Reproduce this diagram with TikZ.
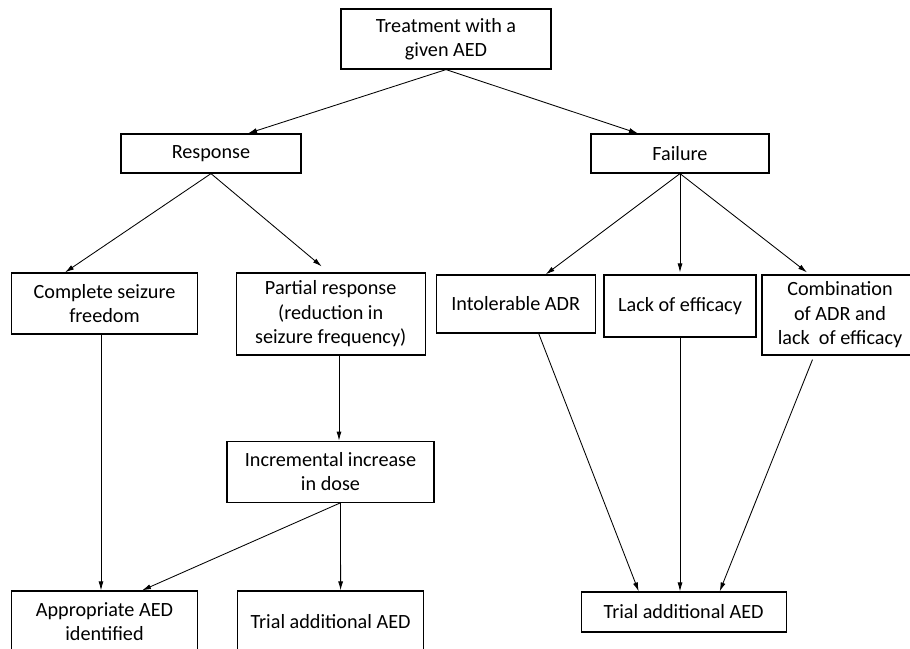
\documentclass[tikz,border=0pt]{standalone}
\usepackage{fontspec}
\setmainfont{Carlito}
\usetikzlibrary{arrows.meta}
\tikzset{
    box/.style={draw, line width=1.2pt, inner sep=0pt, align=center, font=\fontsize{20.2}{24.5}\selectfont},
    flow/.style={line width=.85pt, -{Latex[length=9pt,width=5pt]}}
}
\begin{document}
\begin{tikzpicture}[x=1pt, y=-1pt]
    \useasboundingbox (0,0) rectangle (910,648);
    \node[box, minimum width=210, minimum height=60] (treat) at (446,39) {Treatment with a\\given AED};
    \node[box, minimum width=180, minimum height=39] (resp) at (211,153.5) {Response};
    \node[box, minimum width=178, minimum height=39] (fail) at (680,153.5) {Failure};
    \node[box, minimum width=186, minimum height=61] (compl) at (104.5,303.5) {Complete seizure\\freedom};
    \node[box, minimum width=189, minimum height=82] (part) at (330.7,314) {Partial response\\(reduction in\\seizure frequency)};
    \node[box, minimum width=159, minimum height=58] (intol) at (515.7,304) {Intolerable ADR};
    \node[box, minimum width=152, minimum height=62] (lack) at (680,306) {Lack of efficacy};
    \node[box, minimum width=156, minimum height=80] (comb) at (840,315) {Combination\\of ADR and\\lack\ \ of efficacy};
    \node[box, minimum width=207, minimum height=61] (incr) at (330.5,471.7) {Incremental increase\\in dose};
    \node[box, minimum width=186, minimum height=61] (appr) at (104.5,621.5) {Appropriate AED\\identified};
    \node[box, minimum width=186, minimum height=61] (trialA) at (330.6,621.5) {Trial additional AED};
    \node[box, minimum width=205, minimum height=40] (trialB) at (683.7,612) {Trial additional AED};
    \draw[flow] (treat.south) -- ([xshift=37pt]resp.north);
    \draw[flow] (treat.south) -- ([xshift=-42pt]fail.north);
    \draw[flow] (resp.south) -- ([xshift=-39.5pt]compl.north);
    \draw[flow] (resp.south) -- ([xshift=-9pt,yshift=6pt]part.north);
    \draw[flow] (fail.south) -- ([xshift=30pt]intol.north);
    \draw[flow] (fail.south) -- ([yshift=2pt]lack.north);
    \draw[flow] (fail.south) -- ([xshift=-33pt,yshift=2pt]comb.north);
    \draw[flow] ([xshift=-3.5pt]compl.south) -- ([xshift=-3.5pt]appr.north);
    \draw[flow] ([xshift=8.3pt]part.south) -- ([xshift=8.5pt]incr.north);
    \draw[flow] ([xshift=10pt]incr.south) -- ([xshift=37.5pt]appr.north);
    \draw[flow] ([xshift=10pt]incr.south) -- ([xshift=10pt]trialA.north);
    \draw[flow] ([xshift=23pt]intol.south) -- ([xshift=-45pt]trialB.north);
    \draw[flow] (lack.south) -- ([xshift=-3.7pt]trialB.north);
    \draw[flow] ([xshift=-27.5pt,yshift=-4pt]comb.south) -- ([xshift=36pt]trialB.north);
\end{tikzpicture}
\end{document}
